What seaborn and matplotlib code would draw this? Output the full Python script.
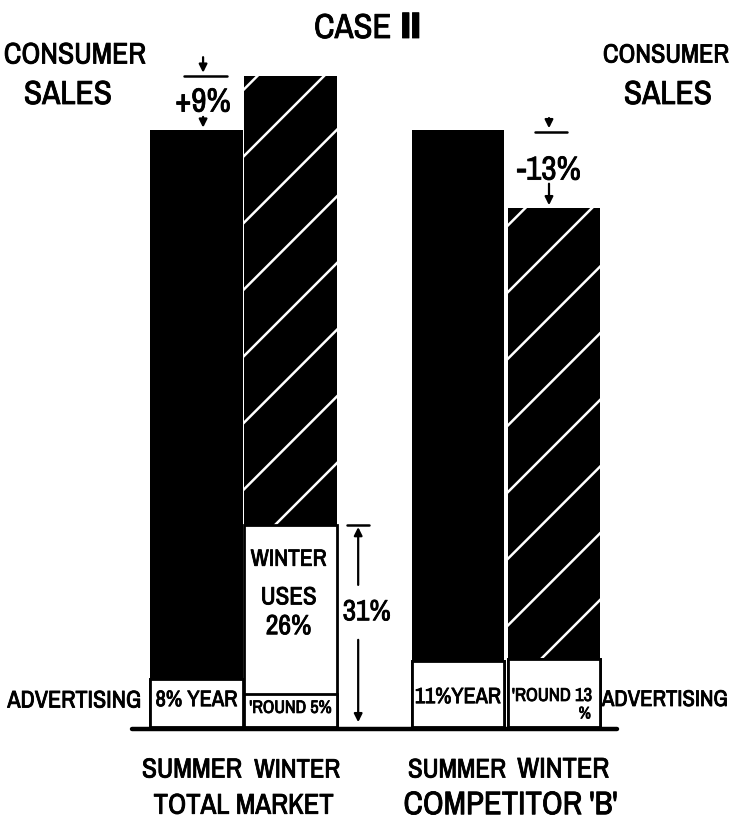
import matplotlib
matplotlib.use("Agg")
import matplotlib.pyplot as plt
from matplotlib import font_manager
import matplotlib.patheffects as pe
import seaborn as sns
import pandas as pd

# ---- data -------------------------------------------------------------
bar_pos = [0.0, 1.0, 2.78, 3.8]
season = ["SUMMER", "WINTER", "SUMMER", "WINTER"]
group_names = ["TOTAL MARKET", "COMPETITOR 'B'"]
consumer_sales = [100, 109, 100, 87]        # summer indexed to 100
advertising_pct = [8, 5, 11, 13]            # advertising share of each bar
winter_uses_pct = [0, 26, 0, 0]             # extra winter uses (total market)
change_labels = ["+9%", "-13%"]
box_labels = ["8% YEAR", "'ROUND 5%", "11%YEAR", "'ROUND 13"]
winter_uses_label = ["WINTER", "USES", "26%"]
span_label = "31%"

# ---- style ------------------------------------------------------------
sns.set_theme(style="white")
ttf = font_manager.fontManager.ttflist
names = {f.name for f in ttf}
narrow = sorted(n for n in names if "Condensed" in n or "Narrow" in n)
FAM = [n for n in narrow + ["Lato", "Roboto"] if n in names][:1] + ["DejaVu Sans"]
plt.rcParams["font.family"] = FAM
plt.rcParams["hatch.linewidth"] = 0.9
INK = [pe.withStroke(linewidth=0.3, foreground="black")]
TXT = dict(color="black", fontweight="bold", ha="center", va="center",
           path_effects=INK)

DPI = 200
fig = plt.figure(figsize=(734 / DPI, 825 / DPI), dpi=DPI)
ax = fig.add_axes([0, 0, 1, 1])

df = pd.DataFrame({"pos": bar_pos, "sales": consumer_sales,
                   "adv_pct": advertising_pct, "uses_pct": winter_uses_pct})
df["adv"] = df["sales"] * df["adv_pct"] / 100
df["white"] = df["sales"] * (df["adv_pct"] + df["uses_pct"]) / 100


def bars(col, **kw):
    n = len(ax.patches)
    sns.barplot(data=df, x="pos", y=col, native_scale=True, width=0.98,
                saturation=1, errorbar=None, ax=ax, **kw)
    return ax.patches[n:]


# consumer sales bars: summer solid, winter hatched
totals = bars("sales", color="black", linewidth=0)
for i in (1, 3):
    p = totals[i]
    p.set_facecolor("black")
    p.set_edgecolor("white")
    p.set_linewidth(0)
    p.set_hatch("/")

# white boxes: advertising + winter uses, then advertising alone
bars("white", color="white", edgecolor="black", linewidth=1.0)
bars("adv", color="white", edgecolor="black", linewidth=1.0)

# baseline
ax.axhline(-0.3, xmin=0.18, xmax=0.84, color="black", lw=1.6,
           solid_capstyle="round")

ARW = dict(arrowstyle="-|>", color="black", lw=0.8, shrinkA=0, shrinkB=0,
           mutation_scale=6)

fitted = []  # (text, target width px, max size pt)


def label(obj, x, y, s, width, size, **kw):
    t = obj.text(x, y, s, fontsize=size, **{**TXT, **kw})
    fitted.append((t, width, size))
    return t


# +9% marker between summer and winter total market
x9 = bar_pos[0] + 0.07
ax.plot([x9 - 0.2, x9 + 0.25], [consumer_sales[1]] * 2, color="black", lw=0.9)
ax.annotate("", xy=(x9, consumer_sales[1] + 0.6), xytext=(x9, consumer_sales[1] + 3.2),
            arrowprops=ARW)
label(ax, x9, consumer_sales[0] + 4.6, change_labels[0], 68, 12)
ax.annotate("", xy=(x9, consumer_sales[0] + 0.4), xytext=(x9, consumer_sales[0] + 2.2),
            arrowprops=ARW)

# -13% marker for competitor 'B'
x13 = bar_pos[3] - 0.05
ax.plot([x13 - 0.15, x13 + 0.19], [consumer_sales[2] - 0.3] * 2, color="black", lw=0.9)
ax.annotate("", xy=(x13, consumer_sales[2] + 0.3), xytext=(x13, consumer_sales[2] + 2.0),
            arrowprops=ARW)
label(ax, x13, consumer_sales[2] - 6.8, change_labels[1], 66, 12)
ax.annotate("", xy=(x13, consumer_sales[3] + 0.4), xytext=(x13, consumer_sales[3] + 4.0),
            arrowprops=ARW)

# 31% span next to the winter bar
xs = bar_pos[1] + 0.72
top = df["white"][1]
ax.plot([xs - 0.12, xs + 0.11], [top, top], color="black", lw=0.9)
ax.annotate("", xy=(xs, top - 0.3), xytext=(xs, 23.8), arrowprops=ARW)
ax.annotate("", xy=(xs, 0.8), xytext=(xs, 14.6), arrowprops=ARW)
label(ax, bar_pos[1] + 0.81, 19.3, span_label, 48, 13)

# winter uses box text
for lab, y, w in zip(winter_uses_label, [28.1, 21.8, 16.8], [76, 56, 52]):
    label(ax, bar_pos[1] - 0.02, y, lab, w, 10)

# advertising box text
label(ax, bar_pos[0], 4.5, box_labels[0], 82, 9.5)
label(ax, bar_pos[1], 3.2, box_labels[1], 82, 8)
label(ax, bar_pos[2], 5.0, box_labels[2], 86, 9.5)
label(ax, bar_pos[3] - 0.02, 5.2, box_labels[3], 80, 9)
ax.text(bar_pos[3] + 0.33, 2.2, "%", fontsize=6, **TXT)

ax.set_xlim(-196.5 / 94, (734 - 196.5) / 94)
ax.set_ylim(-(825 - 727) / 5.97, 727 / 5.97)
ax.axis("off")

# titles and side labels
label(fig, 368 / 734, 1 - 28 / 825, "CASE \u2161", 108, 12.5)
label(fig, 75 / 734, 1 - 55 / 825, "CONSUMER", 142, 14)
label(fig, 68 / 734, 1 - 95 / 825, "SALES", 88, 14)
label(fig, 666 / 734, 1 - 55 / 825, "CONSUMER", 126, 14)
label(fig, 668 / 734, 1 - 95 / 825, "SALES", 88, 14)
label(fig, 74 / 734, 1 - 701 / 825, "ADVERTISING", 134, 9.5)
label(fig, 665 / 734, 1 - 700 / 825, "ADVERTISING", 126, 9.5)

# category labels under the baseline
for xp, dx, s, w in zip(bar_pos, [-0.05, 0.07, -0.01, 0.1], season, [100, 86, 98, 92]):
    label(ax, xp + dx, -7.2, s, w, 14)
for k, (g, dx, w) in enumerate(zip(group_names, [0.0, 0.05], [180, 214])):
    label(ax, (bar_pos[2 * k] + bar_pos[2 * k + 1]) / 2 + dx, -13.1, g, w, 14)

# size each label to the width it occupies
renderer = fig.canvas.get_renderer()
for t, width, size in fitted:
    w = t.get_window_extent(renderer).width
    t.set_fontsize(min(size, t.get_fontsize() * width / w))

fig.savefig("out.png", dpi=DPI, facecolor="white")
